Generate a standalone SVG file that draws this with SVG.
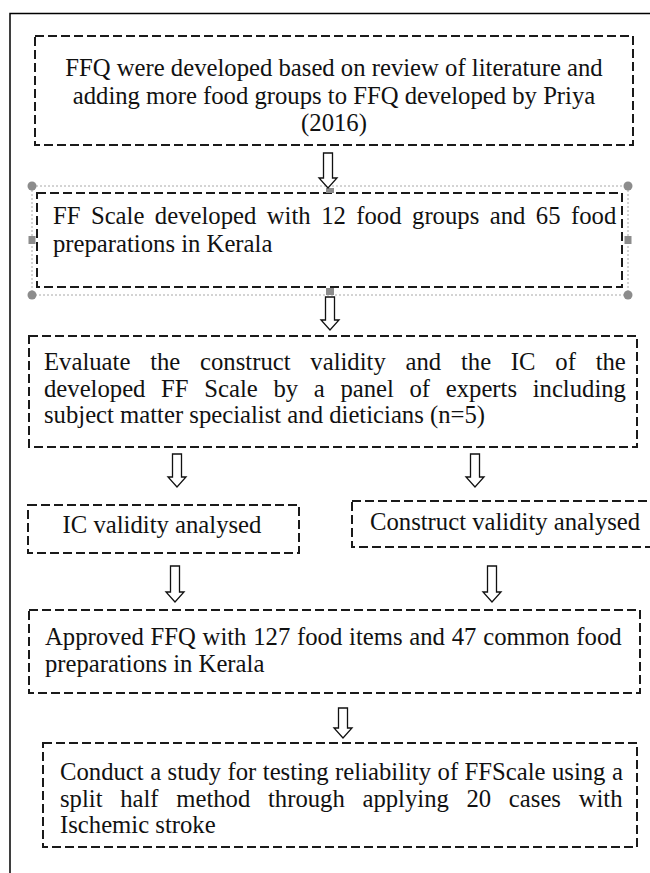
<svg xmlns="http://www.w3.org/2000/svg" width="650" height="873" viewBox="0 0 650 873">
<style>
.box{fill:none;stroke:#1a1a1a;stroke-width:2;stroke-dasharray:9 4}
.sel{fill:none;stroke:#a8a8a8;stroke-width:1;stroke-dasharray:2 2}
.h{fill:#8c8c8c}
.t{font-family:"Liberation Serif","Times New Roman",serif;font-size:24.7px;fill:#111}
.c{text-anchor:middle}
.arr{fill:#fff;stroke:#111;stroke-width:1.3;stroke-linejoin:miter}
</style>
<rect width="650" height="873" fill="#fff"/>
<path d="M10 873V13.5H650" fill="none" stroke="#000" stroke-width="1.5"/>

<g id="n1">
<rect class="box" x="35" y="36" width="598" height="109"/>
<text class="t c" x="334" y="76">FFQ were developed based on review of literature and</text>
<text class="t c" x="334" y="104">adding more food groups to FFQ developed by Priya</text>
<text class="t c" x="334" y="131">(2016)</text>
</g>

<g id="n2">
<rect class="sel" x="32" y="186" width="596" height="109"/>
<rect class="box" x="37" y="193" width="585" height="94"/>
<circle class="h" cx="32" cy="186" r="4.5"/>
<circle class="h" cx="628" cy="186" r="4.5"/>
<circle class="h" cx="32" cy="295" r="4.5"/>
<circle class="h" cx="628" cy="295" r="4.5"/>
<rect class="h" x="28.5" y="236" width="7" height="8"/>
<rect class="h" x="624.5" y="236" width="7" height="8"/>
<rect class="h" x="326" y="288" width="8" height="7"/>
<rect class="h" x="326" y="188" width="8" height="5"/>
<text class="t" x="53" y="224" word-spacing="4.3">FF Scale developed with 12 food groups and 65 food</text>
<text class="t" x="53" y="252">preparations in Kerala</text>
</g>

<g id="n3">
<rect class="box" x="29" y="336" width="608" height="111"/>
<text class="t" x="44" y="370" word-spacing="13.6">Evaluate the construct validity and the IC of the</text>
<text class="t" x="44" y="397" word-spacing="9.5">developed FF Scale by a panel of experts including</text>
<text class="t" x="44" y="423">subject matter specialist and dieticians (n=5)</text>
</g>

<g id="n4">
<rect class="box" x="28" y="505" width="271" height="48"/>
<text class="t c" x="162" y="533">IC validity analysed</text>
</g>

<g id="n5">
<rect class="box" x="352" y="501" width="310" height="46"/>
<text class="t" x="370" y="530">Construct validity analysed</text>
</g>

<g id="n6">
<rect class="box" x="29" y="610" width="611" height="83"/>
<text class="t" x="45" y="645" word-spacing="0.6">Approved FFQ with 127 food items and 47 common food</text>
<text class="t" x="45" y="672">preparations in Kerala</text>
</g>

<g id="n7">
<rect class="box" x="43" y="743" width="594" height="104"/>
<text class="t" x="60" y="780" word-spacing="0.3">Conduct a study for testing reliability of FFScale using a</text>
<text class="t" x="60" y="807" word-spacing="11.5">split half method through applying 20 cases with</text>
<text class="t" x="60" y="833">Ischemic stroke</text>
</g>

<g id="connectors">
<path class="arr" d="M323.5 153H332.5V178H337L328 188L319 178H323.5Z"/>
<path class="arr" d="M325.5 297H334.5V320H339L330 330L321 320H325.5Z"/>
<path class="arr" d="M172.5 454H181.5V477H186L177 487L168 477H172.5Z"/>
<path class="arr" d="M470.5 454H479.5V477H484L475 487L466 477H470.5Z"/>
<path class="arr" d="M170.5 566H179.5V592H184L175 602L166 592H170.5Z"/>
<path class="arr" d="M487.5 566H496.5V592H501L492 602L483 592H487.5Z"/>
<path class="arr" d="M338.5 708H347.5V728H352L343 738L334 728H338.5Z"/>
</g>
</svg>
